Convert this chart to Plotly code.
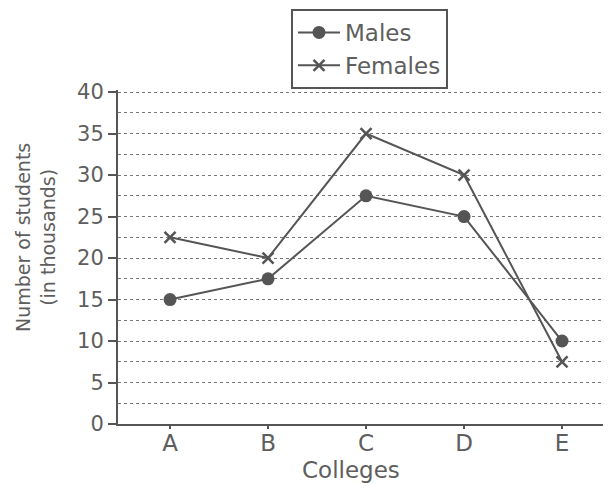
import plotly.graph_objects as go

colleges = ["A", "B", "C", "D", "E"]
males = [15, 17.5, 27.5, 25, 10]
females = [22.5, 20, 35, 30, 7.5]
y_ticks = [0, 5, 10, 15, 20, 25, 30, 35, 40]

ink = "#555555"
txt = "#5e5e5e"
font = "DejaVu Sans, Liberation Sans, Arial, sans-serif"

fig = go.Figure()
fig.add_trace(go.Scatter(
    x=list(range(len(colleges))), y=males, name="Males", mode="lines+markers",
    line=dict(color=ink, width=2),
    marker=dict(symbol="circle", size=13, color=ink),
))
fig.add_trace(go.Scatter(
    x=list(range(len(colleges))), y=females, name="Females", mode="lines+markers",
    line=dict(color=ink, width=2),
    marker=dict(symbol="x-thin", size=11, color=ink, line=dict(width=2.5, color=ink)),
))

W, H = 595, 477
T, B, L = 82, 61, 110
plot_h = H - T - B
plot_w = W - L
fig.update_layout(
    width=W, height=H,
    margin=dict(l=L, r=0, t=T, b=B),
    paper_bgcolor="white", plot_bgcolor="white",
    font=dict(family=font, color=txt, size=20),
    showlegend=True,
    legend=dict(
        x=(283 - L) / plot_w, y=1.0 + 81 / plot_h, xanchor="left", yanchor="top",
        bordercolor=ink, borderwidth=2, bgcolor="white",
        font=dict(size=23, color=txt), tracegroupgap=0,
        itemwidth=42,
    ),
    xaxis=dict(
        range=[-0.531, 4.418],
        tickmode="array", tickvals=list(range(len(colleges))), ticktext=colleges,
        showline=True, linecolor=ink, linewidth=2,
        ticks="outside", ticklen=3, tickcolor=ink, tickwidth=1.5,
        ticklabelstandoff=-6,
        showgrid=False, zeroline=False, automargin=False,
        tickfont=dict(size=23, color=txt),
    ),
    yaxis=dict(
        range=[0, 40.25],
        tickmode="array", tickvals=y_ticks,
        showline=True, linecolor=ink, linewidth=2,
        ticks="outside", ticklen=8, tickcolor=ink, tickwidth=1.5,
        showgrid=True, gridcolor="#777777", griddash="dot", gridwidth=1,
        minor=dict(dtick=2.5, showgrid=True, gridcolor="#777777", griddash="dot", gridwidth=1),
        zeroline=False, automargin=False,
        tickfont=dict(size=21, color=txt),
    ),
    annotations=[
        dict(
            text="Number of students<br>(in thousands)",
            xref="paper", yref="paper",
            x=(27 - L) / plot_w, y=(H - B - 230) / plot_h,
            xanchor="center", yanchor="middle",
            textangle=-90, showarrow=False,
            font=dict(size=19, color=txt),
        ),
        dict(
            text="Colleges",
            xref="paper", yref="paper",
            x=(343 - L) / plot_w, y=((H - B) - 462) / plot_h,
            xanchor="center", yanchor="middle",
            showarrow=False,
            font=dict(size=23, color=txt),
        ),
    ],
)

fig.write_html("out.html")
